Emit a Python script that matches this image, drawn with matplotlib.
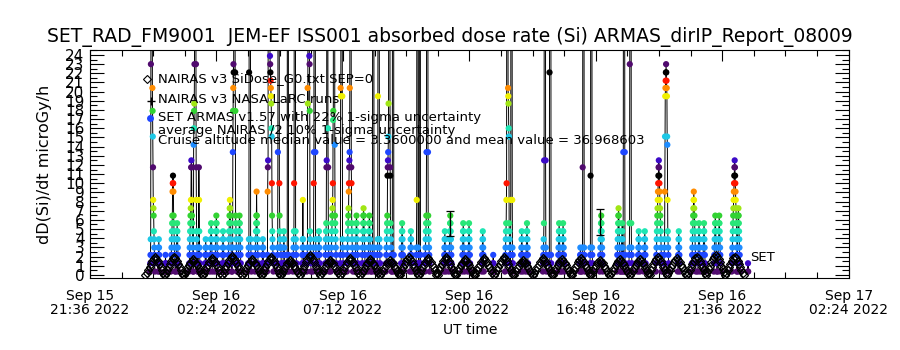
import numpy as np
import matplotlib
matplotlib.use('Agg')
import matplotlib.pyplot as plt
from matplotlib.ticker import MultipleLocator

# time axis: hours after 2022-09-15 21:36 UT
TICK_HOURS = [0, 4.8, 9.6, 14.4, 19.2, 24.0, 28.8]
TICK_LABELS = ['Sep 15\n21:36 2022', 'Sep 16\n02:24 2022', 'Sep 16\n07:12 2022',
               'Sep 16\n12:00 2022', 'Sep 16\n16:48 2022', 'Sep 16\n21:36 2022',
               'Sep 17\n02:24 2022']

# quantised ARMAS dose-rate steps (microGy/h)
LEVELS = [0.36, 1.27, 2.18, 2.98, 3.89, 4.76, 5.64, 6.47, 7.27, 8.18, 9.09, 10.0,
          10.83, 11.74, 12.5, 13.4, 14.2, 15.1, 16.0, 16.9, 17.9, 18.7, 19.5,
          20.4, 21.2, 22.1, 23.0, 23.9]
OFF_SCALE = 60.0   # SAA passes, far above the plotted range
T = 99             # marks a sample that is off scale

# small excursions: (hour, highest step reached)
STACKS = [(2.58, 4), (2.85, 2), (3.26, 6), (4.36, 4), (4.55, 6), (4.74, 7), (5.01, 5),
          (5.24, 9), (5.62, 7), (6.53, 4), (7.32, 5), (8.65, 5), (10.06, 7),
          (10.32, 8), (10.55, 7), (11.8, 6), (12.14, 5), (13.43, 5), (13.62, 7),
          (14.12, 6), (14.34, 6), (14.87, 5), (15.29, 2), (16.35, 5), (16.54, 6),
          (17.76, 6), (17.91, 6), (18.59, 3), (19.35, 7), (20.0, 8), (20.15, 6),
          (20.79, 5), (21.02, 5), (21.48, 14), (22.31, 5), (22.84, 10), (23.07, 6),
          (23.26, 6), (23.68, 7), (23.83, 7), (24.36, 14), (24.55, 8), (24.97, 1)]

# larger excursions: (hour, steps visited in order)
SPIKES = [
    (2.28, [0, 1, 2, 4, 26, T, T, T, T, T, T, 23, 20, 17, 13, 9, 8, 7, 5, 4, 3, 2, 1, 0]),
    (3.07, [0, 1, 2, 3, 4, 5, 6, 7, 10, 11, 12, 11, 10, 7, 6, 5, 4, 3, 2, 1, 0]),
    (3.76, [0, 1, 2, 3, 4, 5, 6, 7, 8, 9, 13, 14, 13, 9, 7, 6, 5, 4, 3, 2, 1, 0]),
    (3.91, [0, 1, 2, 16, 18, 20, 21, 26, T, T, T, T, T, T, 26, 13, 9, 5, 4, 3, 2, 1, 0]),
    (4.10, [0, 1, 2, 3, 13, 9, 5, 3, 2, 1, 0]),
    (5.39, [0, 1, 2, 3, 15, 20, 23, 26, 25, T, T, T, T, T, T, 25, 20, 7, 6, 5, 4, 3, 2, 1, 0]),
    (6.00, [0, 1, 2, 3, 4, 25, T, T, T, T, T, T, 4, 3, 2, 1, 0]),
    (6.26, [0, 1, 2, 3, 4, 5, 6, 7, 10, 7, 6, 5, 4, 3, 2, 1, 0]),
    (6.72, [0, 1, 2, 10, 13, 14, T, T, T, T, T, T, T, T, 27, 26, 25, 24, 23, 22, 21, 18,
            17, 11, 7, 5, 4, 3, 2, 1, 0]),
    (7.10, [0, 1, 2, 3, 15, T, T, T, T, T, T, 11, 7, 5, 4, 3, 3, 3, 3, 2, 1, 0]),
    (7.47, [0, 1, 2, T, T, T, T, T, 2, 1, 0]),
    (7.70, [0, 1, 2, 3, 4, 5, 11, T, T, T, T, T, T, 5, 4, 3, 2, 1, 0]),
    (8.04, [0, 1, 2, 3, 4, 9, 4, 3, 2, 1, 0]),
    (8.23, [0, 1, 2, 3, 23, 21, T, T, T, T, T, T, 27, 26, 20, 5, 4, 3, 2, 1, 0]),
    (8.46, [0, 1, 2, 3, 11, 15, T, T, T, T, T, T, 15, 4, 3, 2, 1, 0]),
    (8.92, [0, 1, 2, 3, 4, 5, 6, 13, 14, T, T, T, T, T, 18, 13, 4, 3, 2, 1, 0]),
    (9.14, [0, 1, 2, 3, 4, 5, 6, 7, 8, 9, 11, 19, 20, T, T, T, T, T, T, 16, 7, 6, 5, 4, 3, 2, 1, 0]),
    (9.49, [0, 1, 2, 23, 22, T, T, T, T, T, T, 22, 4, 3, 2, 1, 0]),
    (9.75, [0, 1, 2, 3, 4, 5, 6, 7, 8, 10, 11, 13, 14, 15, 23, T, T, T, T, T, T, 13, 11, 6,
            5, 4, 3, 2, 1, 0]),
    (10.70, [0, 1, 2, 3, T, T, T, T, T, T, 3, 2, 1, 0]),
    (10.89, [0, 1, 2, 3, 4, 22, T, T, T, T, T, T, 4, 3, 2, 1, 0]),
    (11.23, [0, 1, 2, 3, 4, 5, 6, 7, 12, 13, 14, 15, 17, 21, T, T, T, T, T, T, 13, 12, 6, 5,
             4, 3, 2, 1, 0]),
    (11.46, [0, 1, 2, T, T, T, T, T, T, 2, 1, 0]),
    (12.37, [0, 1, 2, 3, 9, T, T, T, T, T, T, 3, 2, 1, 0]),
    (12.48, [0, 1, 2, T, T, T, T, T, 2, 1, 0]),
    (12.71, [0, 1, 2, 3, 4, 5, 6, 7, 15, T, T, T, T, T, T, 15, 7, 6, 5, 4, 3, 2, 1, 0]),
    (15.75, [0, 1, 2, 3, 4, 5, 6, 9, 11, T, T, T, T, T, T, 23, 22, 21, 18, 17, 6, 5, 4, 3, 2, 1, 0]),
    (15.94, [0, 1, 2, 3, 9, T, T, T, T, T, T, 9, 3, 2, 1, 0]),
    (17.19, [0, 1, 2, 3, 4, 6, 14, T, T, T, T, T, T, 14, 3, 2, 1, 0]),
    (17.42, [0, 1, 2, 25, T, T, T, T, T, T, 2, 1, 0]),
    (18.67, [0, 1, 2, 3, 13, T, T, T, T, T, T, 3, 2, 1, 0]),
    (18.97, [0, 1, 2, 3, 12, T, T, T, T, T, T, 3, 2, 1, 0]),
    (20.22, [0, 1, 2, 15, T, T, T, T, T, T, 15, 2, 1, 0]),
    (20.45, [0, 1, 2, 3, 6, 26, T, T, T, T, T, T, 6, 3, 2, 1, 0]),
    (21.78, [0, 1, 2, 3, 4, 10, 17, 22, 23, 24, 25, 26, 25, 24, 23, 22, 17, 16, 9, 5, 4, 3,
             2, 1, 0]),
]
STEP = 0.008   # hours between consecutive ARMAS samples inside an excursion

# NAIRAS model: one arch per half orbit
HUMP_T = [2.47, 3.19, 3.91, 4.63, 5.39, 6.15, 6.87, 7.59, 8.35, 9.11, 9.87, 10.63, 11.38,
          12.10, 12.83, 13.51, 14.23, 14.95, 15.71, 16.43, 17.19, 17.91, 18.63, 19.35,
          20.11, 20.87, 21.55, 22.27, 23.03, 23.75, 24.47]
HUMP_PEAK = [1.9, 2.0, 1.7, 1.8, 2.1, 1.7, 1.9, 1.6, 2.2, 1.6, 1.8, 1.7, 1.6, 1.9, 1.8,
             1.9, 1.7, 1.8, 1.9, 1.6, 1.8, 1.7, 1.8, 1.6, 1.7, 1.7, 1.9, 1.8, 2.0, 2.2, 2.0]
HUMP_DT = [-0.37, -0.32, -0.26, -0.21, -0.16, -0.11, -0.05, 0.0, 0.05, 0.11, 0.16, 0.21,
           0.26, 0.32, 0.37]
HUMP_SHAPE = [0.0, 0.12, 0.28, 0.45, 0.62, 0.78, 0.9, 1.0, 0.9, 0.78, 0.62, 0.45, 0.28,
              0.12, 0.0]

# 22% uncertainty bars
ERR_T = [13.66, 19.35]
ERR_V = [5.6, 5.8]
ERR_E = [1.4, 1.4]

# colour table wraps every 13 steps
COLORS = ['#500a6e', '#3c0ac8', '#1e46ff', '#1e8cff', '#1ec8e6', '#1ee6b4', '#28e678',
          '#32d232', '#a0e614', '#f0f000', '#ff8c00', '#ff1400', '#000000']

# --- build ARMAS series ---
events = [(t, list(range(k + 1)) + list(range(k - 1, -1, -1))) for t, k in STACKS]
events += SPIKES
events.sort(key=lambda e: e[0])
ts, ks = [], []
for t0, seq in events:
    for j, k in enumerate(seq):
        ts.append(t0 + j * STEP)
        ks.append(k)
ts = np.array(ts)
ks = np.array(ks)
vs = np.array([OFF_SCALE if k == T else LEVELS[k] for k in ks])
on = ks != T
cols = [COLORS[k % 13] for k in ks[on]]

fig = plt.figure(figsize=(9, 3.5), dpi=100)
ax = fig.add_axes([0.1, 0.206, 0.843, 0.651])

ax.plot(ts, vs, color='k', lw=0.7, zorder=2)
ax.scatter(ts[on], vs[on], c=cols, s=20, marker='o', linewidths=0, zorder=3)

for c, p in zip(HUMP_T, HUMP_PEAK):
    ax.plot(np.add(c, HUMP_DT), np.multiply(p, HUMP_SHAPE), 'D', mfc='none', mec='k',
            ms=4.2, mew=0.9, ls='none', zorder=4)

ax.errorbar(ERR_T, ERR_V, yerr=ERR_E, fmt='none', ecolor='k', elinewidth=0.9,
            capsize=3, capthick=0.9, zorder=5)

ax.set_xlim(0, 28.8)
ax.set_ylim(-0.33, 24.54)
ax.set_xticks(TICK_HOURS)
ax.set_xticklabels(TICK_LABELS, fontsize=10, linespacing=1.0)
ax.xaxis.set_minor_locator(MultipleLocator(1.2))
ax.set_yticks(range(0, 25))
ax.set_yticklabels([str(i) for i in range(0, 25)], fontsize=11)
ax.yaxis.set_minor_locator(MultipleLocator(0.5))
ax.tick_params(which='both', direction='in', top=True, right=True, width=0.8)
ax.tick_params(axis='y', which='major', length=10, pad=4)
ax.tick_params(axis='y', which='minor', length=5)
ax.tick_params(axis='x', which='major', length=8, pad=8)
ax.tick_params(axis='x', which='minor', length=4)
for s in ax.spines.values():
    s.set_linewidth(0.8)

# in-plot legend, drawn as plain text like the original
tx = 0.0896
ax.plot([0.075], [0.873], 'D', mfc='none', mec='k', ms=4, mew=0.8, transform=ax.transAxes, clip_on=False)
ax.plot([0.080], [0.776], '+', color='k', ms=6, mew=1.0, transform=ax.transAxes, clip_on=False)
ax.plot([0.079], [0.702], 'o', color='#1e46ff', ms=5, mew=0, transform=ax.transAxes, clip_on=False)
ax.text(tx, 0.873, 'NAIRAS v3 SiDose_G0.txt SEP=0', transform=ax.transAxes, fontsize=9.5, va='center')
ax.text(tx, 0.785, 'NAIRAS v3 NASA LaRC runs', transform=ax.transAxes, fontsize=9.5, va='center')
ax.text(tx, 0.702, 'SET ARMAS v1.57 with 22% 1-sigma uncertainty', transform=ax.transAxes,
        fontsize=9.5, va='center')
ax.text(tx, 0.645, 'average NAIRAS /2 10% 1-sigma uncertainty', transform=ax.transAxes,
        fontsize=9.5, va='center')
ax.text(tx, 0.601, 'Cruise altitude median value = 3.3600000 and mean value = 36.968603',
        transform=ax.transAxes, fontsize=9.5, va='center')
ax.text(0.8696, 0.088, 'SET', transform=ax.transAxes, fontsize=9.5, va='center')

fig.text(0.5, 0.894, 'SET_RAD_FM9001  JEM-EF ISS001 absorbed dose rate (Si) ARMAS_dirIP_Report_08009',
         ha='center', va='center', fontsize=13.5)
fig.text(0.05, 0.529, 'dD(Si)/dt microGy/h', rotation=90, ha='center', va='center', fontsize=11.5)
fig.text(0.522, 0.057, 'UT time', ha='center', va='center', fontsize=10)

fig.savefig('out.png', dpi=100)
